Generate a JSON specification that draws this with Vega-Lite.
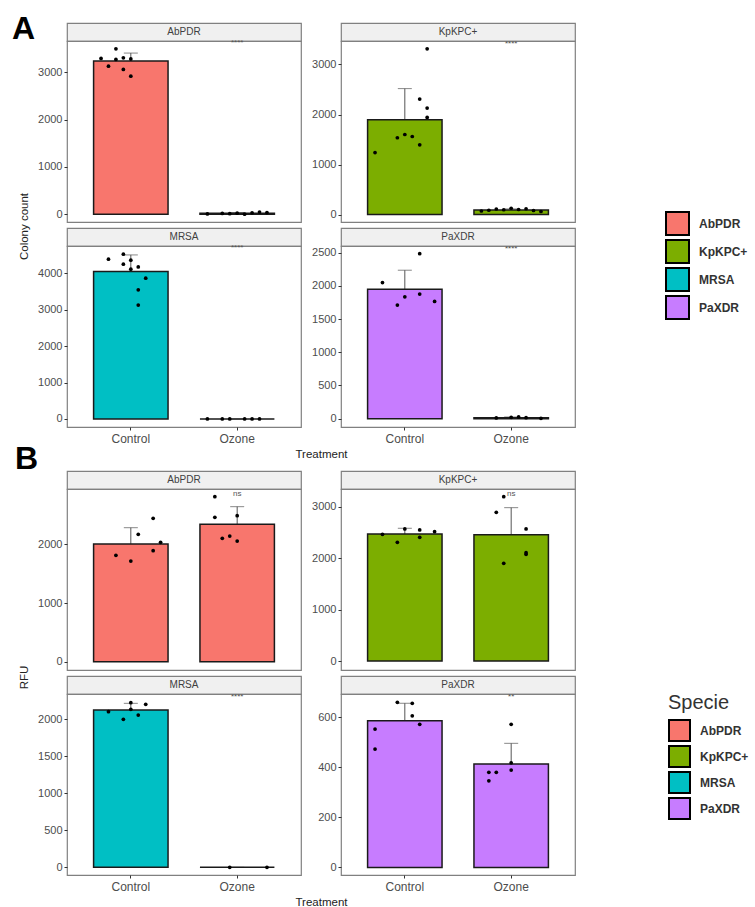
{
  "$schema": "https://vega.github.io/schema/vega-lite/v6.json",
  "padding": {"left": 11, "top": 12, "right": 2, "bottom": 2},
  "config": {
    "font": "Liberation Sans",
    "numberFormat": "d",
    "view": {"stroke": null},
    "axis": {"domain": false, "grid": false, "tickColor": "#333333", "tickSize": 3, "labelColor": "#4d4d4d", "labelFontSize": 11, "labelPadding": 2, "titleFontWeight": "normal", "titleColor": "#222222", "titleFontSize": 11.5},
    "legend": {"symbolType": "square", "symbolStrokeColor": "black", "symbolStrokeWidth": 2, "symbolOpacity": 1, "labelFontSize": 12, "labelFontWeight": "bold", "labelColor": "#333333", "labelOffset": 9}
  },
  "datasets": {
    "d": [
      {"k": "bar", "b": "A", "s": "AbPDR", "t": "Control", "v": 3235, "hi": 3405},
      {"k": "bar", "b": "A", "s": "AbPDR", "t": "Ozone", "v": 20, "hi": 35},
      {"k": "pt", "b": "A", "s": "AbPDR", "t": "Control", "rep": 3, "v": 3496},
      {"k": "pt", "b": "A", "s": "AbPDR", "t": "Control", "rep": 1, "v": 3292},
      {"k": "pt", "b": "A", "s": "AbPDR", "t": "Control", "rep": 3, "v": 3270},
      {"k": "pt", "b": "A", "s": "AbPDR", "t": "Control", "rep": 2, "v": 3129},
      {"k": "pt", "b": "A", "s": "AbPDR", "t": "Control", "rep": 4, "v": 3305},
      {"k": "pt", "b": "A", "s": "AbPDR", "t": "Control", "rep": 5, "v": 3280},
      {"k": "pt", "b": "A", "s": "AbPDR", "t": "Control", "rep": 4, "v": 3059},
      {"k": "pt", "b": "A", "s": "AbPDR", "t": "Control", "rep": 5, "v": 2917},
      {"k": "pt", "b": "A", "s": "AbPDR", "t": "Ozone", "rep": 1, "v": 5},
      {"k": "pt", "b": "A", "s": "AbPDR", "t": "Ozone", "rep": 3, "v": 15},
      {"k": "pt", "b": "A", "s": "AbPDR", "t": "Ozone", "rep": 4, "v": 10},
      {"k": "pt", "b": "A", "s": "AbPDR", "t": "Ozone", "rep": 5, "v": 20},
      {"k": "pt", "b": "A", "s": "AbPDR", "t": "Ozone", "rep": 6, "v": 0},
      {"k": "pt", "b": "A", "s": "AbPDR", "t": "Ozone", "rep": 7, "v": 30},
      {"k": "pt", "b": "A", "s": "AbPDR", "t": "Ozone", "rep": 8, "v": 45},
      {"k": "pt", "b": "A", "s": "AbPDR", "t": "Ozone", "rep": 9, "v": 35},
      {"k": "sig", "b": "A", "s": "AbPDR", "t": "Ozone", "v": 3615, "lab": "****"},

      {"k": "bar", "b": "A", "s": "KpKPC+", "t": "Control", "v": 1896, "hi": 2518},
      {"k": "bar", "b": "A", "s": "KpKPC+", "t": "Ozone", "v": 90, "hi": 112},
      {"k": "pt", "b": "A", "s": "KpKPC+", "t": "Control", "rep": 8, "v": 3313},
      {"k": "pt", "b": "A", "s": "KpKPC+", "t": "Control", "rep": 7, "v": 2309},
      {"k": "pt", "b": "A", "s": "KpKPC+", "t": "Control", "rep": 8, "v": 2129},
      {"k": "pt", "b": "A", "s": "KpKPC+", "t": "Control", "rep": 8, "v": 1942},
      {"k": "pt", "b": "A", "s": "KpKPC+", "t": "Control", "rep": 5, "v": 1600},
      {"k": "pt", "b": "A", "s": "KpKPC+", "t": "Control", "rep": 4, "v": 1535},
      {"k": "pt", "b": "A", "s": "KpKPC+", "t": "Control", "rep": 6, "v": 1560},
      {"k": "pt", "b": "A", "s": "KpKPC+", "t": "Control", "rep": 7, "v": 1393},
      {"k": "pt", "b": "A", "s": "KpKPC+", "t": "Control", "rep": 1, "v": 1239},
      {"k": "pt", "b": "A", "s": "KpKPC+", "t": "Ozone", "rep": 1, "v": 70},
      {"k": "pt", "b": "A", "s": "KpKPC+", "t": "Ozone", "rep": 2, "v": 85},
      {"k": "pt", "b": "A", "s": "KpKPC+", "t": "Ozone", "rep": 3, "v": 110},
      {"k": "pt", "b": "A", "s": "KpKPC+", "t": "Ozone", "rep": 4, "v": 95},
      {"k": "pt", "b": "A", "s": "KpKPC+", "t": "Ozone", "rep": 5, "v": 125},
      {"k": "pt", "b": "A", "s": "KpKPC+", "t": "Ozone", "rep": 6, "v": 100},
      {"k": "pt", "b": "A", "s": "KpKPC+", "t": "Ozone", "rep": 7, "v": 115},
      {"k": "pt", "b": "A", "s": "KpKPC+", "t": "Ozone", "rep": 8, "v": 80},
      {"k": "pt", "b": "A", "s": "KpKPC+", "t": "Ozone", "rep": 9, "v": 60},
      {"k": "sig", "b": "A", "s": "KpKPC+", "t": "Ozone", "v": 3420, "lab": "****"},

      {"k": "bar", "b": "A", "s": "MRSA", "t": "Control", "v": 4044, "hi": 4500},
      {"k": "bar", "b": "A", "s": "MRSA", "t": "Ozone", "v": 0, "hi": 0},
      {"k": "pt", "b": "A", "s": "MRSA", "t": "Control", "rep": 2, "v": 4383},
      {"k": "pt", "b": "A", "s": "MRSA", "t": "Control", "rep": 4, "v": 4519},
      {"k": "pt", "b": "A", "s": "MRSA", "t": "Control", "rep": 5, "v": 4355},
      {"k": "pt", "b": "A", "s": "MRSA", "t": "Control", "rep": 4, "v": 4246},
      {"k": "pt", "b": "A", "s": "MRSA", "t": "Control", "rep": 6, "v": 4172},
      {"k": "pt", "b": "A", "s": "MRSA", "t": "Control", "rep": 5, "v": 4109},
      {"k": "pt", "b": "A", "s": "MRSA", "t": "Control", "rep": 7, "v": 3863},
      {"k": "pt", "b": "A", "s": "MRSA", "t": "Control", "rep": 6, "v": 3544},
      {"k": "pt", "b": "A", "s": "MRSA", "t": "Control", "rep": 6, "v": 3126},
      {"k": "pt", "b": "A", "s": "MRSA", "t": "Ozone", "rep": 1, "v": 0},
      {"k": "pt", "b": "A", "s": "MRSA", "t": "Ozone", "rep": 3, "v": 0},
      {"k": "pt", "b": "A", "s": "MRSA", "t": "Ozone", "rep": 4, "v": 0},
      {"k": "pt", "b": "A", "s": "MRSA", "t": "Ozone", "rep": 6, "v": 0},
      {"k": "pt", "b": "A", "s": "MRSA", "t": "Ozone", "rep": 7, "v": 0},
      {"k": "pt", "b": "A", "s": "MRSA", "t": "Ozone", "rep": 8, "v": 0},
      {"k": "sig", "b": "A", "s": "MRSA", "t": "Ozone", "v": 4700, "lab": "****"},

      {"k": "bar", "b": "A", "s": "PaXDR", "t": "Control", "v": 1952, "hi": 2237},
      {"k": "bar", "b": "A", "s": "PaXDR", "t": "Ozone", "v": 15, "hi": 25},
      {"k": "pt", "b": "A", "s": "PaXDR", "t": "Control", "rep": 7, "v": 2486},
      {"k": "pt", "b": "A", "s": "PaXDR", "t": "Control", "rep": 2, "v": 2051},
      {"k": "pt", "b": "A", "s": "PaXDR", "t": "Control", "rep": 7, "v": 1877},
      {"k": "pt", "b": "A", "s": "PaXDR", "t": "Control", "rep": 5, "v": 1836},
      {"k": "pt", "b": "A", "s": "PaXDR", "t": "Control", "rep": 9, "v": 1766},
      {"k": "pt", "b": "A", "s": "PaXDR", "t": "Control", "rep": 4, "v": 1712},
      {"k": "pt", "b": "A", "s": "PaXDR", "t": "Ozone", "rep": 3, "v": 10},
      {"k": "pt", "b": "A", "s": "PaXDR", "t": "Ozone", "rep": 5, "v": 20},
      {"k": "pt", "b": "A", "s": "PaXDR", "t": "Ozone", "rep": 6, "v": 25},
      {"k": "pt", "b": "A", "s": "PaXDR", "t": "Ozone", "rep": 7, "v": 15},
      {"k": "pt", "b": "A", "s": "PaXDR", "t": "Ozone", "rep": 9, "v": 5},
      {"k": "sig", "b": "A", "s": "PaXDR", "t": "Ozone", "v": 2555, "lab": "****"},

      {"k": "bar", "b": "B", "s": "AbPDR", "t": "Control", "v": 2005, "hi": 2283},
      {"k": "bar", "b": "B", "s": "AbPDR", "t": "Ozone", "v": 2341, "hi": 2641},
      {"k": "pt", "b": "B", "s": "AbPDR", "t": "Control", "rep": 8, "v": 2443},
      {"k": "pt", "b": "B", "s": "AbPDR", "t": "Control", "rep": 6, "v": 2170},
      {"k": "pt", "b": "B", "s": "AbPDR", "t": "Control", "rep": 9, "v": 2034},
      {"k": "pt", "b": "B", "s": "AbPDR", "t": "Control", "rep": 8, "v": 1891},
      {"k": "pt", "b": "B", "s": "AbPDR", "t": "Control", "rep": 3, "v": 1813},
      {"k": "pt", "b": "B", "s": "AbPDR", "t": "Control", "rep": 5, "v": 1715},
      {"k": "pt", "b": "B", "s": "AbPDR", "t": "Ozone", "rep": 2, "v": 2811},
      {"k": "pt", "b": "B", "s": "AbPDR", "t": "Ozone", "rep": 2, "v": 2460},
      {"k": "pt", "b": "B", "s": "AbPDR", "t": "Ozone", "rep": 5, "v": 2487},
      {"k": "pt", "b": "B", "s": "AbPDR", "t": "Ozone", "rep": 3, "v": 2102},
      {"k": "pt", "b": "B", "s": "AbPDR", "t": "Ozone", "rep": 4, "v": 2141},
      {"k": "pt", "b": "B", "s": "AbPDR", "t": "Ozone", "rep": 5, "v": 2056},
      {"k": "sig", "b": "B", "s": "AbPDR", "t": "Ozone", "v": 2850, "lab": "ns"},

      {"k": "bar", "b": "B", "s": "KpKPC+", "t": "Control", "v": 2471, "hi": 2582},
      {"k": "bar", "b": "B", "s": "KpKPC+", "t": "Ozone", "v": 2458, "hi": 2983},
      {"k": "pt", "b": "B", "s": "KpKPC+", "t": "Control", "rep": 2, "v": 2465},
      {"k": "pt", "b": "B", "s": "KpKPC+", "t": "Control", "rep": 5, "v": 2568},
      {"k": "pt", "b": "B", "s": "KpKPC+", "t": "Control", "rep": 7, "v": 2549},
      {"k": "pt", "b": "B", "s": "KpKPC+", "t": "Control", "rep": 9, "v": 2516},
      {"k": "pt", "b": "B", "s": "KpKPC+", "t": "Control", "rep": 7, "v": 2407},
      {"k": "pt", "b": "B", "s": "KpKPC+", "t": "Control", "rep": 4, "v": 2309},
      {"k": "pt", "b": "B", "s": "KpKPC+", "t": "Ozone", "rep": 4, "v": 3196},
      {"k": "pt", "b": "B", "s": "KpKPC+", "t": "Ozone", "rep": 3, "v": 2893},
      {"k": "pt", "b": "B", "s": "KpKPC+", "t": "Ozone", "rep": 7, "v": 2568},
      {"k": "pt", "b": "B", "s": "KpKPC+", "t": "Ozone", "rep": 7, "v": 2107},
      {"k": "pt", "b": "B", "s": "KpKPC+", "t": "Ozone", "rep": 7, "v": 2075},
      {"k": "pt", "b": "B", "s": "KpKPC+", "t": "Ozone", "rep": 4, "v": 1900},
      {"k": "sig", "b": "B", "s": "KpKPC+", "t": "Ozone", "v": 3245, "lab": "ns"},

      {"k": "bar", "b": "B", "s": "MRSA", "t": "Control", "v": 2126, "hi": 2216},
      {"k": "bar", "b": "B", "s": "MRSA", "t": "Ozone", "v": 0, "hi": 0},
      {"k": "pt", "b": "B", "s": "MRSA", "t": "Control", "rep": 5, "v": 2224},
      {"k": "pt", "b": "B", "s": "MRSA", "t": "Control", "rep": 7, "v": 2203},
      {"k": "pt", "b": "B", "s": "MRSA", "t": "Control", "rep": 5, "v": 2135},
      {"k": "pt", "b": "B", "s": "MRSA", "t": "Control", "rep": 2, "v": 2103},
      {"k": "pt", "b": "B", "s": "MRSA", "t": "Control", "rep": 6, "v": 2058},
      {"k": "pt", "b": "B", "s": "MRSA", "t": "Control", "rep": 4, "v": 2000},
      {"k": "pt", "b": "B", "s": "MRSA", "t": "Ozone", "rep": 4, "v": 0},
      {"k": "pt", "b": "B", "s": "MRSA", "t": "Ozone", "rep": 9, "v": 0},
      {"k": "sig", "b": "B", "s": "MRSA", "t": "Ozone", "v": 2306, "lab": "****"},

      {"k": "bar", "b": "B", "s": "PaXDR", "t": "Control", "v": 586, "hi": 656},
      {"k": "bar", "b": "B", "s": "PaXDR", "t": "Ozone", "v": 413, "hi": 496},
      {"k": "pt", "b": "B", "s": "PaXDR", "t": "Control", "rep": 4, "v": 660},
      {"k": "pt", "b": "B", "s": "PaXDR", "t": "Control", "rep": 6, "v": 656},
      {"k": "pt", "b": "B", "s": "PaXDR", "t": "Control", "rep": 6, "v": 606},
      {"k": "pt", "b": "B", "s": "PaXDR", "t": "Control", "rep": 7, "v": 572},
      {"k": "pt", "b": "B", "s": "PaXDR", "t": "Control", "rep": 1, "v": 553},
      {"k": "pt", "b": "B", "s": "PaXDR", "t": "Control", "rep": 1, "v": 473},
      {"k": "pt", "b": "B", "s": "PaXDR", "t": "Ozone", "rep": 5, "v": 572},
      {"k": "pt", "b": "B", "s": "PaXDR", "t": "Ozone", "rep": 5, "v": 418},
      {"k": "pt", "b": "B", "s": "PaXDR", "t": "Ozone", "rep": 5, "v": 389},
      {"k": "pt", "b": "B", "s": "PaXDR", "t": "Ozone", "rep": 2, "v": 380},
      {"k": "pt", "b": "B", "s": "PaXDR", "t": "Ozone", "rep": 3, "v": 380},
      {"k": "pt", "b": "B", "s": "PaXDR", "t": "Ozone", "rep": 2, "v": 346},
      {"k": "sig", "b": "B", "s": "PaXDR", "t": "Ozone", "v": 682, "lab": "**"}
    ]
  },
  "columns": 2,
  "spacing": {"row": 0, "column": 40},
  "bounds": "flush",
  "concat": [
    {"width": 234, "height": 18, "view": {"fill": "#f0f0f0", "stroke": "#808080", "strokeWidth": 1.2}, "title": {"text": "A", "anchor": "start", "frame": "group", "orient": "top", "offset": 0, "baseline": "alphabetic", "fontSize": 32, "fontWeight": "bold", "color": "black", "dx": -55, "dy": 48.3}, "data": {"values": [{"lab": "AbPDR"}]}, "mark": {"type": "text", "fontSize": 10, "color": "#404040"}, "encoding": {"text": {"field": "lab", "type": "nominal"}}},
    {"width": 234, "height": 18, "view": {"fill": "#f0f0f0", "stroke": "#808080", "strokeWidth": 1.2}, "data": {"values": [{"lab": "KpKPC+"}]}, "mark": {"type": "text", "fontSize": 10, "color": "#404040"}, "encoding": {"text": {"field": "lab", "type": "nominal"}}},
    {
      "width": 234, "height": 181,
      "view": {"stroke": "#808080", "strokeWidth": 1.2, "fill": "white"},
      "data": {"name": "d"},
      "transform": [{"filter": "datum.b == 'A' && datum.s == 'AbPDR'"}],
      "resolve": {"scale": {"xOffset": "independent"}},
      "encoding": {
        "x": {"field": "t", "type": "nominal", "scale": {"domain": ["Control", "Ozone"], "paddingInner": 0.3, "paddingOuter": 0.25}, "axis": null},
        "y": {"field": "v", "type": "quantitative", "scale": {"domain": [-165, 3660], "nice": false}, "axis": {"values": [0, 1000, 2000, 3000], "format": "d", "title": null}}
      },
      "layer": [
        {"transform": [{"filter": "datum.k == 'bar'"}], "mark": {"type": "rule", "color": "#555555", "strokeWidth": 1}, "encoding": {"y2": {"field": "hi"}}},
        {"transform": [{"filter": "datum.k == 'bar'"}], "mark": {"type": "tick", "color": "#555555", "size": 14, "thickness": 1}, "encoding": {"y": {"field": "hi", "type": "quantitative"}}},
        {"transform": [{"filter": "datum.k == 'bar'"}], "mark": {"type": "bar", "stroke": "#1a1a1a", "strokeWidth": 1.5}, "encoding": {"fill": {"field": "s", "type": "nominal", "scale": {"domain": ["AbPDR", "KpKPC+", "MRSA", "PaXDR"], "range": ["#F8766D", "#7CAE00", "#00BFC4", "#C77CFF"]}, "legend": {"title": null, "orient": "none", "legendX": 598, "legendY": 188, "symbolSize": 529, "rowPadding": -3}}}},
        {"transform": [{"filter": "datum.k == 'pt'"}], "mark": {"type": "circle", "color": "black", "size": 14, "opacity": 1}, "encoding": {"xOffset": {"field": "rep", "type": "ordinal", "scale": {"type": "point", "domain": [1, 2, 3, 4, 5, 6, 7, 8, 9], "padding": 3.5}}}},
        {"transform": [{"filter": "datum.k == 'sig'"}], "mark": {"type": "text", "fontSize": 8, "color": "#555555"}, "encoding": {"text": {"field": "lab"}}}
      ]
    },
    {
      "width": 234, "height": 181,
      "view": {"stroke": "#808080", "strokeWidth": 1.2, "fill": "white"},
      "data": {"name": "d"},
      "transform": [{"filter": "datum.b == 'A' && datum.s == 'KpKPC+'"}],
      "resolve": {"scale": {"xOffset": "independent"}},
      "encoding": {
        "x": {"field": "t", "type": "nominal", "scale": {"domain": ["Control", "Ozone"], "paddingInner": 0.3, "paddingOuter": 0.25}, "axis": null},
        "y": {"field": "v", "type": "quantitative", "scale": {"domain": [-150, 3470], "nice": false}, "axis": {"values": [0, 1000, 2000, 3000], "format": "d", "title": null}}
      },
      "layer": [
        {"transform": [{"filter": "datum.k == 'bar'"}], "mark": {"type": "rule", "color": "#555555", "strokeWidth": 1}, "encoding": {"y2": {"field": "hi"}}},
        {"transform": [{"filter": "datum.k == 'bar'"}], "mark": {"type": "tick", "color": "#555555", "size": 14, "thickness": 1}, "encoding": {"y": {"field": "hi", "type": "quantitative"}}},
        {"transform": [{"filter": "datum.k == 'bar'"}], "mark": {"type": "bar", "stroke": "#1a1a1a", "strokeWidth": 1.5}, "encoding": {"fill": {"field": "s", "type": "nominal", "scale": {"domain": ["AbPDR", "KpKPC+", "MRSA", "PaXDR"], "range": ["#F8766D", "#7CAE00", "#00BFC4", "#C77CFF"]}, "legend": {"title": null, "orient": "none", "legendX": 598, "legendY": 188, "symbolSize": 529, "rowPadding": -3}}}},
        {"transform": [{"filter": "datum.k == 'pt'"}], "mark": {"type": "circle", "color": "black", "size": 14, "opacity": 1}, "encoding": {"xOffset": {"field": "rep", "type": "ordinal", "scale": {"type": "point", "domain": [1, 2, 3, 4, 5, 6, 7, 8, 9], "padding": 3.5}}}},
        {"transform": [{"filter": "datum.k == 'sig'"}], "mark": {"type": "text", "fontSize": 8, "color": "#555555"}, "encoding": {"text": {"field": "lab"}}}
      ]
    },
    {"width": 234, "height": 6, "data": {"values": []}, "mark": "point"},
    {"width": 234, "height": 6, "data": {"values": []}, "mark": "point"},
    {"width": 234, "height": 18, "view": {"fill": "#f0f0f0", "stroke": "#808080", "strokeWidth": 1.2}, "data": {"values": [{"lab": "MRSA"}]}, "mark": {"type": "text", "fontSize": 10, "color": "#404040"}, "encoding": {"text": {"field": "lab", "type": "nominal"}}},
    {"width": 234, "height": 18, "view": {"fill": "#f0f0f0", "stroke": "#808080", "strokeWidth": 1.2}, "data": {"values": [{"lab": "PaXDR"}]}, "mark": {"type": "text", "fontSize": 10, "color": "#404040"}, "encoding": {"text": {"field": "lab", "type": "nominal"}}},
    {
      "width": 234, "height": 181,
      "view": {"stroke": "#808080", "strokeWidth": 1.2, "fill": "white"},
      "data": {"name": "d"},
      "transform": [{"filter": "datum.b == 'A' && datum.s == 'MRSA'"}],
      "resolve": {"scale": {"xOffset": "independent"}},
      "encoding": {
        "x": {"field": "t", "type": "nominal", "scale": {"domain": ["Control", "Ozone"], "paddingInner": 0.3, "paddingOuter": 0.25}, "axis": {"title": "Treatment", "labelAngle": 0, "labelFontSize": 12, "labelPadding": 3, "titleX": 254, "titlePadding": 4}},
        "y": {"field": "v", "type": "quantitative", "scale": {"domain": [-220, 4745], "nice": false}, "axis": {"values": [0, 1000, 2000, 3000, 4000], "format": "d", "title": "Colony count", "titleY": -20, "titlePadding": 8}}
      },
      "layer": [
        {"transform": [{"filter": "datum.k == 'bar'"}], "mark": {"type": "rule", "color": "#555555", "strokeWidth": 1}, "encoding": {"y2": {"field": "hi"}}},
        {"transform": [{"filter": "datum.k == 'bar'"}], "mark": {"type": "tick", "color": "#555555", "size": 14, "thickness": 1}, "encoding": {"y": {"field": "hi", "type": "quantitative"}}},
        {"transform": [{"filter": "datum.k == 'bar'"}], "mark": {"type": "bar", "stroke": "#1a1a1a", "strokeWidth": 1.5}, "encoding": {"fill": {"field": "s", "type": "nominal", "scale": {"domain": ["AbPDR", "KpKPC+", "MRSA", "PaXDR"], "range": ["#F8766D", "#7CAE00", "#00BFC4", "#C77CFF"]}, "legend": {"title": null, "orient": "none", "legendX": 598, "legendY": 188, "symbolSize": 529, "rowPadding": -3}}}},
        {"transform": [{"filter": "datum.k == 'pt'"}], "mark": {"type": "circle", "color": "black", "size": 14, "opacity": 1}, "encoding": {"xOffset": {"field": "rep", "type": "ordinal", "scale": {"type": "point", "domain": [1, 2, 3, 4, 5, 6, 7, 8, 9], "padding": 3.5}}}},
        {"transform": [{"filter": "datum.k == 'sig'"}], "mark": {"type": "text", "fontSize": 8, "color": "#555555"}, "encoding": {"text": {"field": "lab"}}}
      ]
    },
    {
      "width": 234, "height": 181,
      "view": {"stroke": "#808080", "strokeWidth": 1.2, "fill": "white"},
      "data": {"name": "d"},
      "transform": [{"filter": "datum.b == 'A' && datum.s == 'PaXDR'"}],
      "resolve": {"scale": {"xOffset": "independent"}},
      "encoding": {
        "x": {"field": "t", "type": "nominal", "scale": {"domain": ["Control", "Ozone"], "paddingInner": 0.3, "paddingOuter": 0.25}, "axis": {"title": null, "labelAngle": 0, "labelFontSize": 12, "labelPadding": 3}},
        "y": {"field": "v", "type": "quantitative", "scale": {"domain": [-126, 2602], "nice": false}, "axis": {"values": [0, 500, 1000, 1500, 2000, 2500], "format": "d", "title": null}}
      },
      "layer": [
        {"transform": [{"filter": "datum.k == 'bar'"}], "mark": {"type": "rule", "color": "#555555", "strokeWidth": 1}, "encoding": {"y2": {"field": "hi"}}},
        {"transform": [{"filter": "datum.k == 'bar'"}], "mark": {"type": "tick", "color": "#555555", "size": 14, "thickness": 1}, "encoding": {"y": {"field": "hi", "type": "quantitative"}}},
        {"transform": [{"filter": "datum.k == 'bar'"}], "mark": {"type": "bar", "stroke": "#1a1a1a", "strokeWidth": 1.5}, "encoding": {"fill": {"field": "s", "type": "nominal", "scale": {"domain": ["AbPDR", "KpKPC+", "MRSA", "PaXDR"], "range": ["#F8766D", "#7CAE00", "#00BFC4", "#C77CFF"]}, "legend": {"title": null, "orient": "none", "legendX": 598, "legendY": 188, "symbolSize": 529, "rowPadding": -3}}}},
        {"transform": [{"filter": "datum.k == 'pt'"}], "mark": {"type": "circle", "color": "black", "size": 14, "opacity": 1}, "encoding": {"xOffset": {"field": "rep", "type": "ordinal", "scale": {"type": "point", "domain": [1, 2, 3, 4, 5, 6, 7, 8, 9], "padding": 3.5}}}},
        {"transform": [{"filter": "datum.k == 'sig'"}], "mark": {"type": "text", "fontSize": 8, "color": "#555555"}, "encoding": {"text": {"field": "lab"}}}
      ]
    },
    {"width": 234, "height": 44, "data": {"values": []}, "mark": "point"},
    {"width": 234, "height": 44, "data": {"values": []}, "mark": "point"},
    {"width": 234, "height": 18, "view": {"fill": "#f0f0f0", "stroke": "#808080", "strokeWidth": 1.2}, "title": {"text": "B", "anchor": "start", "frame": "group", "orient": "top", "offset": 0, "baseline": "alphabetic", "fontSize": 32, "fontWeight": "bold", "color": "black", "dx": -52, "dy": 30.3}, "data": {"values": [{"lab": "AbPDR"}]}, "mark": {"type": "text", "fontSize": 10, "color": "#404040"}, "encoding": {"text": {"field": "lab", "type": "nominal"}}},
    {"width": 234, "height": 18, "view": {"fill": "#f0f0f0", "stroke": "#808080", "strokeWidth": 1.2}, "data": {"values": [{"lab": "KpKPC+"}]}, "mark": {"type": "text", "fontSize": 10, "color": "#404040"}, "encoding": {"text": {"field": "lab", "type": "nominal"}}},
    {
      "width": 234, "height": 181,
      "view": {"stroke": "#808080", "strokeWidth": 1.2, "fill": "white"},
      "data": {"name": "d"},
      "transform": [{"filter": "datum.b == 'B' && datum.s == 'AbPDR'"}],
      "resolve": {"scale": {"xOffset": "independent"}},
      "encoding": {
        "x": {"field": "t", "type": "nominal", "scale": {"domain": ["Control", "Ozone"], "paddingInner": 0.3, "paddingOuter": 0.25}, "axis": null},
        "y": {"field": "v", "type": "quantitative", "scale": {"domain": [-141, 2942], "nice": false}, "axis": {"values": [0, 1000, 2000], "format": "d", "title": null}}
      },
      "layer": [
        {"transform": [{"filter": "datum.k == 'bar'"}], "mark": {"type": "rule", "color": "#555555", "strokeWidth": 1}, "encoding": {"y2": {"field": "hi"}}},
        {"transform": [{"filter": "datum.k == 'bar'"}], "mark": {"type": "tick", "color": "#555555", "size": 14, "thickness": 1}, "encoding": {"y": {"field": "hi", "type": "quantitative"}}},
        {"transform": [{"filter": "datum.k == 'bar'"}], "mark": {"type": "bar", "stroke": "#1a1a1a", "strokeWidth": 1.5}, "encoding": {"color": {"field": "s", "type": "nominal", "scale": {"range": ["#F8766D", "#7CAE00", "#00BFC4", "#C77CFF"]}, "legend": {"title": "Specie", "titleFontSize": 20, "titleFontWeight": "normal", "titleColor": "#333333", "titlePadding": 6, "orient": "none", "legendX": 601, "legendY": 670, "symbolSize": 441, "rowPadding": -4}}}},
        {"transform": [{"filter": "datum.k == 'pt'"}], "mark": {"type": "circle", "color": "black", "size": 14, "opacity": 1}, "encoding": {"xOffset": {"field": "rep", "type": "ordinal", "scale": {"type": "point", "domain": [1, 2, 3, 4, 5, 6, 7, 8, 9], "padding": 3.5}}}},
        {"transform": [{"filter": "datum.k == 'sig'"}], "mark": {"type": "text", "fontSize": 8, "color": "#555555"}, "encoding": {"text": {"field": "lab"}}}
      ]
    },
    {
      "width": 234, "height": 181,
      "view": {"stroke": "#808080", "strokeWidth": 1.2, "fill": "white"},
      "data": {"name": "d"},
      "transform": [{"filter": "datum.b == 'B' && datum.s == 'KpKPC+'"}],
      "resolve": {"scale": {"xOffset": "independent"}},
      "encoding": {
        "x": {"field": "t", "type": "nominal", "scale": {"domain": ["Control", "Ozone"], "paddingInner": 0.3, "paddingOuter": 0.25}, "axis": null},
        "y": {"field": "v", "type": "quantitative", "scale": {"domain": [-175, 3346], "nice": false}, "axis": {"values": [0, 1000, 2000, 3000], "format": "d", "title": null}}
      },
      "layer": [
        {"transform": [{"filter": "datum.k == 'bar'"}], "mark": {"type": "rule", "color": "#555555", "strokeWidth": 1}, "encoding": {"y2": {"field": "hi"}}},
        {"transform": [{"filter": "datum.k == 'bar'"}], "mark": {"type": "tick", "color": "#555555", "size": 14, "thickness": 1}, "encoding": {"y": {"field": "hi", "type": "quantitative"}}},
        {"transform": [{"filter": "datum.k == 'bar'"}], "mark": {"type": "bar", "stroke": "#1a1a1a", "strokeWidth": 1.5}, "encoding": {"color": {"field": "s", "type": "nominal", "scale": {"range": ["#F8766D", "#7CAE00", "#00BFC4", "#C77CFF"]}, "legend": {"title": "Specie", "titleFontSize": 20, "titleFontWeight": "normal", "titleColor": "#333333", "titlePadding": 6, "orient": "none", "legendX": 601, "legendY": 670, "symbolSize": 441, "rowPadding": -4}}}},
        {"transform": [{"filter": "datum.k == 'pt'"}], "mark": {"type": "circle", "color": "black", "size": 14, "opacity": 1}, "encoding": {"xOffset": {"field": "rep", "type": "ordinal", "scale": {"type": "point", "domain": [1, 2, 3, 4, 5, 6, 7, 8, 9], "padding": 3.5}}}},
        {"transform": [{"filter": "datum.k == 'sig'"}], "mark": {"type": "text", "fontSize": 8, "color": "#555555"}, "encoding": {"text": {"field": "lab"}}}
      ]
    },
    {"width": 234, "height": 6, "data": {"values": []}, "mark": "point"},
    {"width": 234, "height": 6, "data": {"values": []}, "mark": "point"},
    {"width": 234, "height": 18, "view": {"fill": "#f0f0f0", "stroke": "#808080", "strokeWidth": 1.2}, "data": {"values": [{"lab": "MRSA"}]}, "mark": {"type": "text", "fontSize": 10, "color": "#404040"}, "encoding": {"text": {"field": "lab", "type": "nominal"}}},
    {"width": 234, "height": 18, "view": {"fill": "#f0f0f0", "stroke": "#808080", "strokeWidth": 1.2}, "data": {"values": [{"lab": "PaXDR"}]}, "mark": {"type": "text", "fontSize": 10, "color": "#404040"}, "encoding": {"text": {"field": "lab", "type": "nominal"}}},
    {
      "width": 234, "height": 181,
      "view": {"stroke": "#808080", "strokeWidth": 1.2, "fill": "white"},
      "data": {"name": "d"},
      "transform": [{"filter": "datum.b == 'B' && datum.s == 'MRSA'"}],
      "resolve": {"scale": {"xOffset": "independent"}},
      "encoding": {
        "x": {"field": "t", "type": "nominal", "scale": {"domain": ["Control", "Ozone"], "paddingInner": 0.3, "paddingOuter": 0.25}, "axis": {"title": "Treatment", "labelAngle": 0, "labelFontSize": 12, "labelPadding": 3, "titleX": 254, "titlePadding": 4}},
        "y": {"field": "v", "type": "quantitative", "scale": {"domain": [-104, 2342], "nice": false}, "axis": {"values": [0, 500, 1000, 1500, 2000], "format": "d", "title": "RFU", "titleY": -17, "titlePadding": 8}}
      },
      "layer": [
        {"transform": [{"filter": "datum.k == 'bar'"}], "mark": {"type": "rule", "color": "#555555", "strokeWidth": 1}, "encoding": {"y2": {"field": "hi"}}},
        {"transform": [{"filter": "datum.k == 'bar'"}], "mark": {"type": "tick", "color": "#555555", "size": 14, "thickness": 1}, "encoding": {"y": {"field": "hi", "type": "quantitative"}}},
        {"transform": [{"filter": "datum.k == 'bar'"}], "mark": {"type": "bar", "stroke": "#1a1a1a", "strokeWidth": 1.5}, "encoding": {"color": {"field": "s", "type": "nominal", "scale": {"range": ["#F8766D", "#7CAE00", "#00BFC4", "#C77CFF"]}, "legend": {"title": "Specie", "titleFontSize": 20, "titleFontWeight": "normal", "titleColor": "#333333", "titlePadding": 6, "orient": "none", "legendX": 601, "legendY": 670, "symbolSize": 441, "rowPadding": -4}}}},
        {"transform": [{"filter": "datum.k == 'pt'"}], "mark": {"type": "circle", "color": "black", "size": 14, "opacity": 1}, "encoding": {"xOffset": {"field": "rep", "type": "ordinal", "scale": {"type": "point", "domain": [1, 2, 3, 4, 5, 6, 7, 8, 9], "padding": 3.5}}}},
        {"transform": [{"filter": "datum.k == 'sig'"}], "mark": {"type": "text", "fontSize": 8, "color": "#555555"}, "encoding": {"text": {"field": "lab"}}}
      ]
    },
    {
      "width": 234, "height": 181,
      "view": {"stroke": "#808080", "strokeWidth": 1.2, "fill": "white"},
      "data": {"name": "d"},
      "transform": [{"filter": "datum.b == 'B' && datum.s == 'PaXDR'"}],
      "resolve": {"scale": {"xOffset": "independent"}},
      "encoding": {
        "x": {"field": "t", "type": "nominal", "scale": {"domain": ["Control", "Ozone"], "paddingInner": 0.3, "paddingOuter": 0.25}, "axis": {"title": null, "labelAngle": 0, "labelFontSize": 12, "labelPadding": 3}},
        "y": {"field": "v", "type": "quantitative", "scale": {"domain": [-30, 693], "nice": false}, "axis": {"values": [0, 200, 400, 600], "format": "d", "title": null}}
      },
      "layer": [
        {"transform": [{"filter": "datum.k == 'bar'"}], "mark": {"type": "rule", "color": "#555555", "strokeWidth": 1}, "encoding": {"y2": {"field": "hi"}}},
        {"transform": [{"filter": "datum.k == 'bar'"}], "mark": {"type": "tick", "color": "#555555", "size": 14, "thickness": 1}, "encoding": {"y": {"field": "hi", "type": "quantitative"}}},
        {"transform": [{"filter": "datum.k == 'bar'"}], "mark": {"type": "bar", "stroke": "#1a1a1a", "strokeWidth": 1.5}, "encoding": {"color": {"field": "s", "type": "nominal", "scale": {"range": ["#F8766D", "#7CAE00", "#00BFC4", "#C77CFF"]}, "legend": {"title": "Specie", "titleFontSize": 20, "titleFontWeight": "normal", "titleColor": "#333333", "titlePadding": 6, "orient": "none", "legendX": 601, "legendY": 670, "symbolSize": 441, "rowPadding": -4}}}},
        {"transform": [{"filter": "datum.k == 'pt'"}], "mark": {"type": "circle", "color": "black", "size": 14, "opacity": 1}, "encoding": {"xOffset": {"field": "rep", "type": "ordinal", "scale": {"type": "point", "domain": [1, 2, 3, 4, 5, 6, 7, 8, 9], "padding": 3.5}}}},
        {"transform": [{"filter": "datum.k == 'sig'"}], "mark": {"type": "text", "fontSize": 8, "color": "#555555"}, "encoding": {"text": {"field": "lab"}}}
      ]
    }
  ]
}
